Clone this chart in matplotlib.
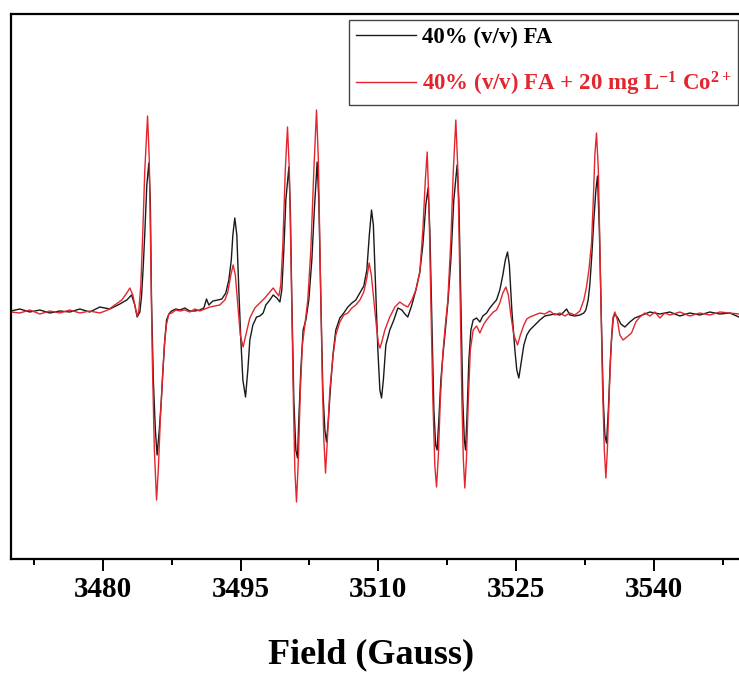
import matplotlib
matplotlib.use("Agg")
import matplotlib.pyplot as plt
from matplotlib.ticker import MultipleLocator

plt.rcParams['font.family'] = ['Liberation Serif', 'DejaVu Serif']
plt.rcParams['font.weight'] = 'bold'
plt.rcParams['mathtext.fontset'] = 'custom'
plt.rcParams['mathtext.rm'] = 'Liberation Serif:bold'
plt.rcParams['mathtext.it'] = 'Liberation Serif:bold'
plt.rcParams['mathtext.bf'] = 'Liberation Serif:bold'

# Field (Gauss) and EPR intensity (a.u.) for 40% (v/v) FA
field_fa = [3469.98, 3470.96, 3472.05, 3473.14, 3474.23, 3475.32, 3476.41, 3477.50, 3478.58, 3479.67,
            3480.76, 3481.85, 3482.61, 3483.13, 3483.48, 3483.74, 3484.03, 3484.21, 3484.41, 3484.57,
            3484.79, 3485.01, 3485.17, 3485.30, 3485.50, 3485.72, 3485.91, 3486.15, 3486.37, 3486.57,
            3486.75, 3486.94, 3487.19, 3487.48, 3487.95, 3488.39, 3488.93, 3489.47, 3490.02, 3490.56,
            3491.00, 3491.29, 3491.54, 3491.98, 3492.52, 3492.96, 3493.39, 3493.72, 3493.99, 3494.16,
            3494.37, 3494.59, 3494.81, 3495.03, 3495.25, 3495.54, 3495.79, 3496.01, 3496.34, 3496.74,
            3497.10, 3497.46, 3497.75, 3498.19, 3498.55, 3498.95, 3499.28, 3499.49, 3499.71, 3499.93,
            3500.26, 3500.42, 3500.58, 3500.80, 3501.02, 3501.20, 3501.34, 3501.56, 3501.81, 3502.11,
            3502.43, 3502.76, 3503.03, 3503.34, 3503.52, 3503.74, 3503.96, 3504.18, 3504.36, 3504.56,
            3504.77, 3505.08, 3505.37, 3505.81, 3506.24, 3506.68, 3507.12, 3507.55, 3507.99, 3508.42,
            3508.75, 3509.02, 3509.26, 3509.46, 3509.68, 3509.95, 3510.17, 3510.35, 3510.55, 3510.82,
            3511.25, 3511.69, 3512.13, 3512.56, 3512.89, 3513.21, 3513.65, 3514.09, 3514.52, 3514.85,
            3515.17, 3515.42, 3515.61, 3515.83, 3516.05, 3516.24, 3516.40, 3516.59, 3516.81, 3517.06,
            3517.30, 3517.60, 3517.90, 3518.22, 3518.58, 3518.77, 3518.99, 3519.20, 3519.37, 3519.50,
            3519.64, 3519.86, 3520.08, 3520.33, 3520.70, 3521.06, 3521.38, 3521.79, 3522.14, 3522.58,
            3522.87, 3523.23, 3523.56, 3523.83, 3524.07, 3524.27, 3524.54, 3524.87, 3525.08, 3525.30,
            3525.52, 3525.85, 3526.17, 3526.50, 3527.04, 3527.59, 3528.13, 3528.68, 3529.22, 3529.77,
            3530.09, 3530.50, 3530.86, 3531.40, 3531.95, 3532.38, 3532.60, 3532.85, 3533.03, 3533.25,
            3533.47, 3533.69, 3533.87, 3534.07, 3534.29, 3534.50, 3534.67, 3534.85, 3535.05, 3535.27,
            3535.43, 3535.59, 3535.76, 3536.08, 3536.41, 3536.85, 3537.39, 3537.93, 3538.48, 3539.57,
            3540.66, 3541.75, 3542.84, 3543.92, 3545.01, 3546.10, 3547.19, 3548.28, 3549.26]
signal_fa = [1, 3, 0, 2, -1, 1, 0, 3, 0, 5,
             3, 8, 12, 17, 7, -5, 0, 15, 47, 79,
             127, 149, 112, 12, -68, -118, -143, -118, -88, -55,
             -28, -8, -2, 1, 3, 2, 4, 1, 1, 2,
             4, 13, 7, 11, 12, 13, 19, 32, 52, 77,
             94, 77, 22, -28, -68, -85, -58, -28, -13, -5,
             -4, -1, 7, 12, 17, 14, 10, 22, 62, 112,
             145, 102, 12, -88, -138, -146, -108, -58, -18, -8,
             12, 52, 102, 150, 112, 12, -78, -118, -130, -108,
             -78, -41, -18, -6, -1, 5, 9, 12, 19, 26,
             42, 77, 102, 87, 32, -38, -78, -86, -68, -33,
             -18, -8, 4, 2, -2, -5, 7, 22, 40, 67,
             107, 124, 82, -8, -98, -133, -138, -108, -68, -41,
             -18, 12, 52, 112, 147, 112, 12, -88, -128, -138,
             -108, -48, -18, -8, -6, -10, -4, -1, 4, 9,
             12, 22, 37, 52, 60, 47, 2, -38, -58, -66,
             -53, -33, -23, -18, -13, -8, -4, -3, -2, -3,
             -1, 3, -3, -4, -3, -1, 2, 12, 27, 57,
             92, 122, 136, 82, -8, -88, -123, -131, -98, -48,
             -23, -6, -2, -6, -12, -15, -10, -6, -4, 0,
             -2, 0, -4, -1, -3, 0, -2, -1, -5]

# Field (Gauss) and EPR intensity (a.u.) for 40% (v/v) FA + 20 mg/L Co2+
field_co = [3469.98, 3470.96, 3472.05, 3473.14, 3474.23, 3475.32, 3476.41, 3477.50, 3478.58, 3479.67,
            3480.54, 3481.31, 3482.07, 3482.61, 3482.94, 3483.27, 3483.59, 3483.76, 3483.92, 3484.14,
            3484.36, 3484.57, 3484.87, 3485.06, 3485.23, 3485.39, 3485.61, 3485.85, 3486.04, 3486.26,
            3486.48, 3486.70, 3486.92, 3487.19, 3487.51, 3487.95, 3488.39, 3488.93, 3489.47, 3490.02,
            3490.56, 3491.11, 3491.65, 3492.20, 3492.74, 3493.29, 3493.61, 3493.94, 3494.19, 3494.43,
            3494.70, 3494.97, 3495.28, 3495.57, 3496.01, 3496.55, 3497.10, 3497.64, 3498.19, 3498.55,
            3498.84, 3499.17, 3499.38, 3499.60, 3499.87, 3500.11, 3500.31, 3500.53, 3500.75, 3500.91,
            3501.09, 3501.29, 3501.51, 3501.73, 3502.00, 3502.32, 3502.65, 3502.98, 3503.27, 3503.47,
            3503.69, 3503.90, 3504.07, 3504.25, 3504.45, 3504.72, 3505.08, 3505.37, 3505.81, 3506.24,
            3506.68, 3507.12, 3507.55, 3507.99, 3508.42, 3508.75, 3509.00, 3509.24, 3509.51, 3509.78,
            3510.00, 3510.17, 3510.38, 3510.71, 3511.25, 3511.80, 3512.34, 3512.78, 3513.21, 3513.65,
            3514.09, 3514.52, 3514.85, 3515.12, 3515.32, 3515.50, 3515.72, 3515.94, 3516.15, 3516.34,
            3516.54, 3516.75, 3517.03, 3517.30, 3517.57, 3517.90, 3518.17, 3518.44, 3518.66, 3518.88,
            3519.10, 3519.26, 3519.42, 3519.59, 3519.80, 3520.02, 3520.33, 3520.70, 3521.06, 3521.44,
            3521.79, 3522.14, 3522.53, 3522.87, 3523.23, 3523.56, 3523.89, 3524.16, 3524.43, 3524.76,
            3525.16, 3525.47, 3525.85, 3526.17, 3526.50, 3527.04, 3527.59, 3528.13, 3528.68, 3529.22,
            3529.77, 3530.31, 3530.86, 3531.40, 3531.95, 3532.38, 3532.67, 3532.93, 3533.22, 3533.41,
            3533.58, 3533.76, 3533.96, 3534.18, 3534.40, 3534.61, 3534.78, 3534.94, 3535.16, 3535.38,
            3535.54, 3535.76, 3536.03, 3536.30, 3536.66, 3537.06, 3537.57, 3538.04, 3538.48, 3539.02,
            3539.57, 3540.11, 3540.66, 3541.20, 3541.75, 3542.84, 3543.92, 3545.01, 3546.10, 3547.19,
            3548.28, 3549.26]
signal_co = [0, -1, 2, -2, 1, -1, 2, -1, 1, -1,
             2, 7, 12, 19, 24, 17, 2, -4, 2, 27,
             82, 142, 196, 152, 52, -48, -138, -188, -158, -108,
             -68, -33, -13, -2, -1, 2, 1, 2, 0, 3,
             1, 3, 5, 6, 7, 12, 20, 37, 47, 37,
             7, -23, -35, -23, -6, 4, 9, 14, 20, 24,
             20, 16, 27, 67, 142, 185, 142, 32, -88, -158,
             -190, -148, -78, -33, -13, 12, 62, 142, 202, 152,
             42, -68, -128, -161, -128, -78, -43, -23, -10, -3,
             -1, 4, 7, 12, 20, 34, 49, 37, 12, -13,
             -31, -36, -30, -18, -5, 5, 10, 7, 5, 12,
             22, 40, 82, 132, 160, 112, 12, -88, -153, -175,
             -143, -88, -41, -13, 12, 72, 142, 192, 142, 32,
             -88, -148, -176, -148, -88, -38, -18, -14, -21, -13,
             -8, -4, 0, 2, 9, 19, 25, 17, -3, -23,
             -33, -23, -13, -7, -5, -3, -1, -2, 1, -3,
             -1, -4, -1, -3, 1, 12, 25, 42, 69, 112,
             157, 179, 142, 42, -68, -138, -166, -138, -78, -28,
             -6, 0, -8, -23, -28, -25, -21, -10, -5, -1,
             -4, 0, -6, -1, -3, 0, -4, -1, -3, 0,
             -1, -2]

labels = ['40% (v/v) FA', '40% (v/v) FA + 20 mg L$^{-1}$ Co$^{2+}$']
colors = ['#1a1a1a', '#e3262d']
text_colors = ['black', '#e3262d']
xticks = [3480, 3495, 3510, 3525, 3540]

W, H = 739, 675
fig = plt.figure(figsize=(W / 100, H / 100), dpi=100)
x_left, x_right = 3470.0, 3550.0
ax_left_px, ax_top_px, ax_bot_px = 11, 14, 559
px_per_g = 9.183
ax_w_px = (x_right - x_left) * px_per_g
ax = fig.add_axes([ax_left_px / W, 1 - ax_bot_px / H, ax_w_px / W, (ax_bot_px - ax_top_px) / H])

ax.plot(field_fa, signal_fa, color=colors[0], lw=1.0, label=labels[0])
ax.plot(field_co, signal_co, color=colors[1], lw=1.0, label=labels[1])

ax.set_xlim(x_left, x_right)
ax.set_ylim(-247, 298)
ax.set_xticks(xticks)
ax.xaxis.set_minor_locator(MultipleLocator(7.5))
ax.set_yticks([])
for s in ax.spines.values():
    s.set_linewidth(1.6)
ax.tick_params(axis='x', which='major', direction='out', length=8.5, width=1.4, labelsize=21, pad=4)
ax.tick_params(axis='x', which='minor', direction='out', length=4.5, width=1.4)
for t in ax.get_xticklabels():
    t.set_fontweight('bold')

fig.text(371 / W, 1 - 655 / H, 'Field (Gauss)', ha='center', va='center', fontsize=26, fontweight='bold')

leg = ax.legend(loc='upper right', bbox_to_anchor=(738 / W, 1 - 20 / H), bbox_transform=fig.transFigure,
                fontsize=16.5, frameon=True, fancybox=False, edgecolor='#444444', framealpha=1,
                handlelength=2.6, handletextpad=0.25, labelspacing=0.95, borderpad=0.3,
                borderaxespad=0)
leg.get_frame().set_linewidth(1.0)
for txt, c in zip(leg.get_texts(), text_colors):
    txt.set_color(c)
    txt.set_fontweight('bold')

fig.savefig('out.png', dpi=100)
